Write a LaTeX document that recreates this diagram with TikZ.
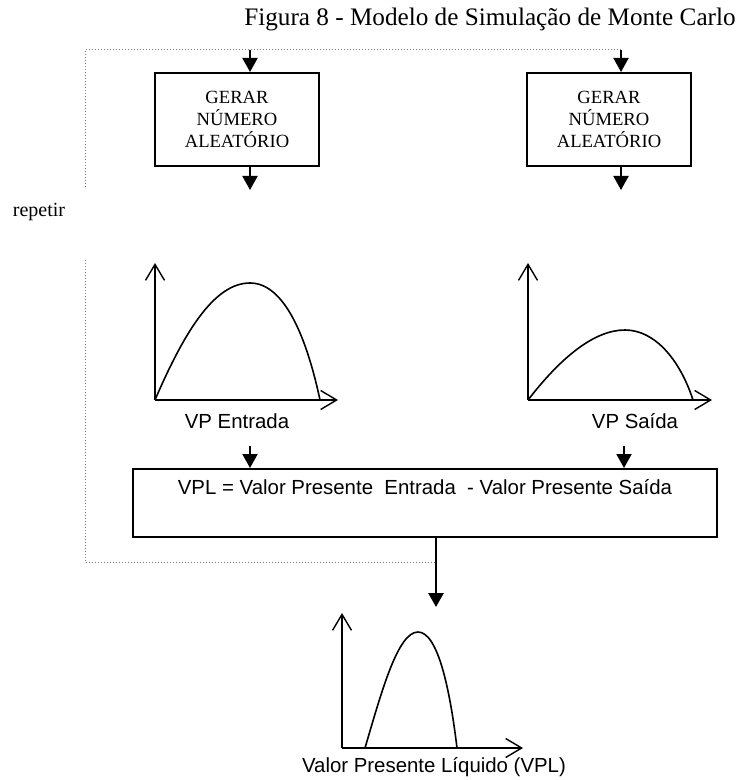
\documentclass[tikz,border=0pt]{standalone}
\usepackage{fontspec}
\setmainfont{Liberation Serif}
\setsansfont{Liberation Sans}
\usepackage{tikz}
\usetikzlibrary{arrows.meta, positioning, calc}

\tikzset{
  caixa/.style={draw, line width=1pt, minimum width=82pt, minimum height=46.5pt,
    align=center, font=\fontsize{9.3}{10.8}\selectfont},
  seta/.style={line width=1pt, -{Triangle[length=7pt,width=7.5pt]}},
  eixo/.style={line width=0.7pt, -{Straight Barb[length=8pt,width=9.5pt]}},
  curva/.style={line width=0.8pt},
  laco/.style={densely dotted, gray, line width=0.5pt},
  rotulo/.style={font=\sffamily\fontsize{10.2}{12}\selectfont}
}

\begin{document}
\begin{tikzpicture}[x=0.5pt, y=-0.5pt]
    \useasboundingbox (0,0) rectangle (735,780);
    \node[font=\fontsize{12.6}{14}\selectfont] (titulo) at (490,19) {Figura 8 - Modelo de Simula\c{c}\~ao de Monte Carlo};
    % caixas de sorteio
    \node[caixa] (g1) at (237,119.5) {GERAR\\N\'UMERO\\ALEAT\'ORIO};
    \node[caixa] (g2) at (609,119.5) {GERAR\\N\'UMERO\\ALEAT\'ORIO};
    \coordinate (a1) at (250,50);
    \coordinate (a2) at (621,50);
    \draw[seta] (a1) -- (a1 |- g1.north);
    \draw[seta] (a2) -- (a2 |- g2.north);
    \draw[seta] (a1 |- g1.south) -- +(0,23);
    \draw[seta] (a2 |- g2.south) -- +(0,23);
    % lacos de repeticao
    \node[font=\fontsize{10}{12}\selectfont] (rep) at (39,212) {repetir};
    \coordinate (c1) at (85,50);
    \coordinate (c2) at (85,562);
    \coordinate (c3) at (436,562);
    \draw[laco] (a2) -- (c1) -- (85,187);
    \draw[laco] (85,260) -- (c2) -- (c3);
    % distribuicoes
    \coordinate (o1) at (155,400);
    \coordinate (o2) at (528,400);
    \coordinate (o3) at (342,748);
    \draw[eixo] (o1) -- (155,263);
    \draw[eixo] (o1) -- (338,400);
    \draw[curva] (o1) .. controls (185,330) and (215,283) .. (250,283)
      .. controls (282,283) and (305,330) .. (320,400);
    \draw[eixo] (o2) -- (528,263);
    \draw[eixo] (o2) -- (712,400);
    \draw[curva] (o2) .. controls (562,356) and (595,330) .. (625,330)
      .. controls (655,330) and (680,360) .. (693,400);
    \draw[eixo] (o3) -- (342,613);
    \draw[eixo] (o3) -- (523,748);
    \draw[curva] (365,748) .. controls (382,690) and (398,632) .. (418,632)
      .. controls (438,632) and (450,690) .. (457,748);
    \node[rotulo] (vpe) at (237,421) {VP Entrada};
    \node[rotulo] (vps) at (635,421) {VP Sa\'ida};
    \node[rotulo] (vpliq) at (434,767) {Valor Presente L\'iquido (VPL)};
    % calculo do VPL
    \node[draw, line width=1pt, minimum width=292pt, minimum height=34pt, rotulo, align=center]
      (vpl) at (425,503) {VPL = Valor Presente~ Entrada~ - Valor Presente Sa\'ida\\ \strut};
    \coordinate (s1) at (250,446);
    \coordinate (s2) at (624,446);
    \draw[seta] (s1) -- (s1 |- vpl.north);
    \draw[seta] (s2) -- (s2 |- vpl.north);
    \coordinate (b) at (436,607);
    \draw[seta, line width=1.4pt] (b |- vpl.south) -- (b);
  \end{tikzpicture}
\end{document}
